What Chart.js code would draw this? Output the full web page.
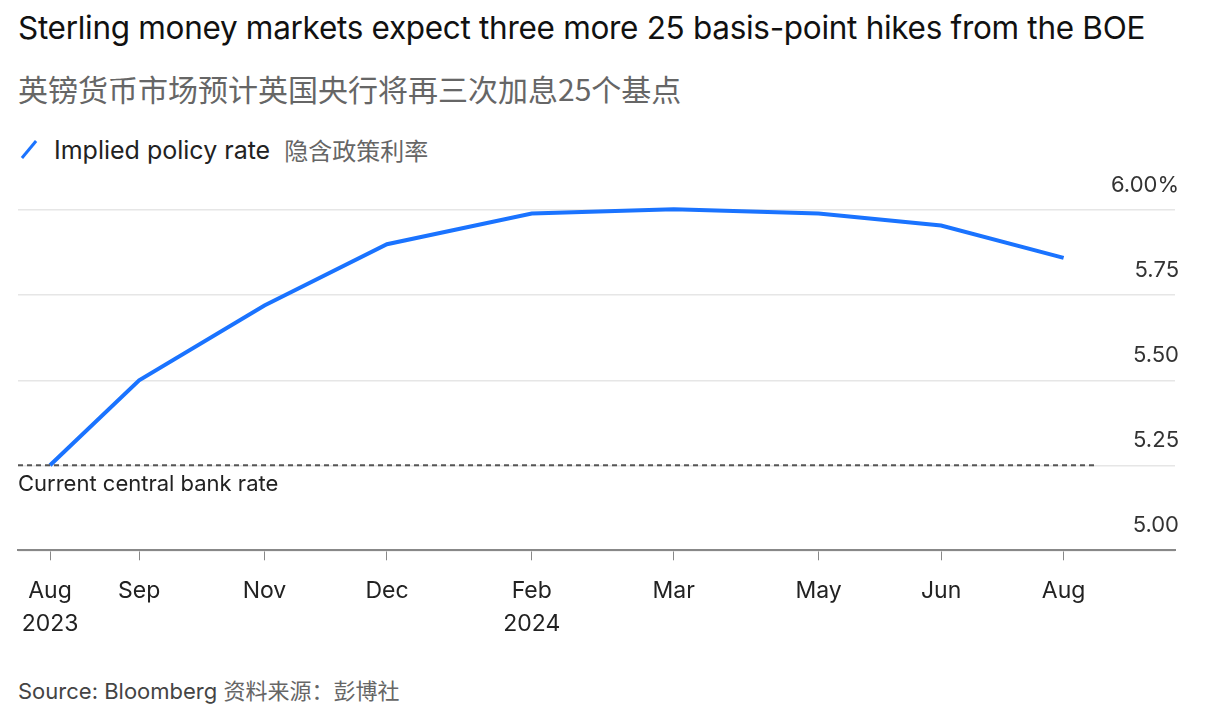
<!DOCTYPE html>
<html>
<head>
<meta charset="utf-8">
<script src="https://cdn.jsdelivr.net/npm/chart.js@4.4.0/dist/chart.umd.min.js"></script>
<style>
  body { margin: 0; background: #fff; font-family: "Inter", "Noto Sans CJK SC", sans-serif; color: #222; }
  .wrap { position: relative; width: 1209px; height: 720px; }
  .title { position: absolute; left: 18px; top: 8px; font-size: 31.5px; color: #111; white-space: nowrap; letter-spacing: -0.3px; }
  .subtitle { position: absolute; left: 18px; top: 66px; font-size: 30px; color: #666; font-family: "Noto Sans CJK SC", sans-serif; }
  .legend { position: absolute; left: 18px; top: 132px; font-size: 25px; color: #222; display: flex; align-items: center; }
  .legend .mark { width: 22px; height: 3px; background: #1a73ff; transform: rotate(-50deg); margin-right: 14px; }
  .legend .cn { color: #666; margin-left: 14px; font-family: "Noto Sans CJK SC", sans-serif; font-size: 24px; }
  .source { position: absolute; left: 18px; top: 673px; font-size: 22px; color: #444; }
  .source .cn { color: #666; font-family: "Noto Sans CJK SC", sans-serif; }
  .chart { position: absolute; left: 0; top: 165px; width: 1209px; height: 490px; }
</style>
</head>
<body>
<div class="wrap">
  <div class="title">Sterling money markets expect three more 25 basis-point hikes from the BOE</div>
  <div class="subtitle">英镑货币市场预计英国央行将再三次加息25个基点</div>
  <div class="legend"><span class="mark"></span>Implied policy rate<span class="cn">隐含政策利率</span></div>
  <div class="chart"><canvas id="c"></canvas></div>
  <div class="source">Source: Bloomberg <span class="cn">资料来源：彭博社</span></div>
</div>
<script>
// meeting dates as days after the Aug 2023 meeting
const meetingDays = [0, 32, 77, 121, 173, 224, 276, 320, 364];
const meetingLabels = [['Aug', '2023'], 'Sep', 'Nov', 'Dec', ['Feb', '2024'], 'Mar', 'May', 'Jun', 'Aug'];
const impliedRate = [5.25, 5.50, 5.72, 5.90, 5.99, 6.003, 5.99, 5.955, 5.86];
const yTicks = [5.00, 5.25, 5.50, 5.75, 6.00];
const yTickLabels = ['5.00', '5.25', '5.50', '5.75', '6.00%'];
const currentRate = 5.25;

const overlay = {
  id: 'overlay',
  afterDraw(chart) {
    const ctx = chart.ctx, x = chart.scales.x, y = chart.scales.y, a = chart.chartArea;
    ctx.save();
    ctx.font = '22px Inter, sans-serif';
    ctx.fillStyle = '#333';
    ctx.textAlign = 'right';
    ctx.textBaseline = 'bottom';
    yTicks.forEach((v, i) => ctx.fillText(yTickLabels[i], a.right + 4, y.getPixelForValue(v) - 14));
    // current rate dashed line
    const py = y.getPixelForValue(currentRate);
    ctx.strokeStyle = '#555';
    ctx.lineWidth = 2;
    ctx.setLineDash([5, 4]);
    ctx.beginPath();
    ctx.moveTo(a.left, py);
    ctx.lineTo(x.getPixelForValue(376), py);
    ctx.stroke();
    ctx.setLineDash([]);
    ctx.textAlign = 'left';
    ctx.textBaseline = 'top';
    ctx.fillStyle = '#222';
    ctx.fillText('Current central bank rate', a.left, py + 8);
    ctx.restore();
  }
};

new Chart(document.getElementById('c'), {
  type: 'line',
  data: {
    datasets: [{
      data: meetingDays.map((d, i) => ({ x: d, y: impliedRate[i] })),
      borderColor: '#1a73ff',
      borderWidth: 4,
      pointRadius: 0,
      tension: 0
    }]
  },
  options: {
    responsive: true,
    maintainAspectRatio: false,
    animation: false,
    layout: { padding: { left: 18, right: 34, top: 18, bottom: 0 } },
    plugins: { legend: { display: false }, tooltip: { enabled: false } },
    scales: {
      x: {
        type: 'linear',
        min: -11.5,
        max: 404,
        afterBuildTicks: s => { s.ticks = meetingDays.map(v => ({ value: v })); },
        ticks: {
          autoSkip: false,
          maxRotation: 0,
          padding: 14,
          color: '#222',
          font: { size: 23, family: 'Inter', lineHeight: 1.45 },
          callback: (v, i) => meetingLabels[i]
        },
        grid: { drawOnChartArea: false, drawTicks: true, tickLength: 10, color: '#888' },
        border: { color: '#888', width: 2 }
      },
      y: {
        min: 5.0,
        max: 6.08,
        display: true,
        afterBuildTicks: s => { s.ticks = yTicks.map(v => ({ value: v })); },
        ticks: { display: false },
        grid: { color: '#e6e6e6', lineWidth: 1.5, drawTicks: false },
        border: { display: false }
      }
    }
  },
  plugins: [overlay]
});
</script>
</body>
</html>
